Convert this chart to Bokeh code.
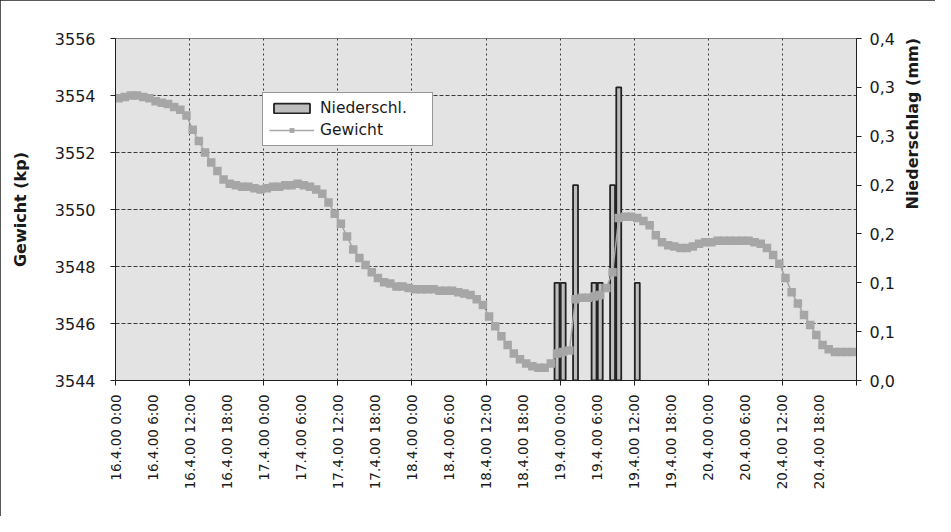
import math
from bokeh.plotting import figure
from bokeh.models import Range1d, LinearAxis, FixedTicker, Legend, LegendItem, ColumnDataSource
from bokeh.embed import file_html
from bokeh.resources import INLINE

# ---- data ----
# hourly weight readings (kp), hour index 0 = 16.4.00 0:00
gewicht = [
    3553.9, 3553.95, 3554.0, 3554.0, 3553.95, 3553.9, 3553.8, 3553.75, 3553.7, 3553.6,
    3553.5, 3553.3, 3552.8, 3552.4, 3552.0, 3551.65, 3551.35, 3551.05, 3550.9, 3550.85,
    3550.8, 3550.8, 3550.75, 3550.7, 3550.75, 3550.8, 3550.8, 3550.85, 3550.85, 3550.9,
    3550.85, 3550.8, 3550.7, 3550.55, 3550.25, 3549.85, 3549.5, 3549.05, 3548.6, 3548.3,
    3548.05, 3547.8, 3547.6, 3547.45, 3547.4, 3547.3, 3547.3, 3547.25, 3547.2, 3547.2,
    3547.2, 3547.2, 3547.15, 3547.15, 3547.15, 3547.1, 3547.05, 3547.0, 3546.85, 3546.65,
    3546.25, 3545.9, 3545.55, 3545.25, 3544.95, 3544.75, 3544.6, 3544.5, 3544.45, 3544.45,
    3544.6, 3544.95, 3545.0, 3545.05, 3546.85, 3546.9, 3546.9, 3546.95, 3547.0, 3547.25,
    3547.8, 3549.7, 3549.75, 3549.75, 3549.7, 3549.6, 3549.45, 3549.1, 3548.85, 3548.75,
    3548.7, 3548.65, 3548.65, 3548.7, 3548.8, 3548.85, 3548.85, 3548.9, 3548.9, 3548.9,
    3548.9, 3548.9, 3548.9, 3548.85, 3548.8, 3548.65, 3548.4, 3548.1, 3547.6, 3547.1,
    3546.7, 3546.3, 3545.95, 3545.6, 3545.25, 3545.1, 3545.0, 3545.0, 3545.0, 3545.0,
]
# precipitation (mm) at hour indices
regen_stunde = [71, 72, 74, 77, 78, 80, 81, 84]
regen_mm = [0.1, 0.1, 0.2, 0.1, 0.1, 0.2, 0.3, 0.1]

# x tick labels every 6 hours
x_tick_hours = [0, 6, 12, 18, 24, 30, 36, 42, 48, 54, 60, 66, 72, 78, 84, 90, 96, 102, 108, 114]
x_tick_labels = [
    "16.4.00 0:00", "16.4.00 6:00", "16.4.00 12:00", "16.4.00 18:00",
    "17.4.00 0:00", "17.4.00 6:00", "17.4.00 12:00", "17.4.00 18:00",
    "18.4.00 0:00", "18.4.00 6:00", "18.4.00 12:00", "18.4.00 18:00",
    "19.4.00 0:00", "19.4.00 6:00", "19.4.00 12:00", "19.4.00 18:00",
    "20.4.00 0:00", "20.4.00 6:00", "20.4.00 12:00", "20.4.00 18:00",
]
left_ticks = [3544, 3546, 3548, 3550, 3552, 3554, 3556]
right_ticks = [0.0, 0.05, 0.1, 0.15, 0.2, 0.25, 0.3, 0.35]
right_tick_labels = ["0,0", "0,1", "0,1", "0,2", "0,2", "0,3", "0,3", "0,4"]

FONT = "DejaVu Sans"
TXT = "#1a1a1a"

w_src = ColumnDataSource(dict(x=[i + 0.5 for i in range(len(gewicht))], y=gewicht))
r_src = ColumnDataSource(dict(x=[h + 0.5 for h in regen_stunde], y=regen_mm))

p = figure(width=935, height=516, output_backend="svg", toolbar_location=None,
           x_range=Range1d(0, 120), y_range=Range1d(3544, 3556),
           min_border_left=115, min_border_right=79, min_border_top=38, min_border_bottom=136,
           background_fill_color="#e3e3e3", border_fill_color="white")
p.outline_line_color = "#808080"
p.extra_y_ranges = {"prec": Range1d(0, 0.35)}

bars = p.vbar(x="x", top="y", width=0.8, bottom=0, source=r_src, y_range_name="prec",
              fill_color="#bdbdbd", line_color="#222222", line_width=1.8)
line = p.line("x", "y", source=w_src, line_color="#a6a6a6", line_width=1.5)
pts = p.scatter("x", "y", source=w_src, marker="square", size=8.5,
                fill_color="#a6a6a6", line_color=None)

# axes
xa = p.xaxis[0]
xa.ticker = FixedTicker(ticks=x_tick_hours, minor_ticks=list(range(0, 121, 12)))
xa.major_label_overrides = {h: lab for h, lab in zip(x_tick_hours, x_tick_labels)}
xa.major_label_orientation = math.pi / 2
xa.major_tick_out = 0
xa.major_tick_in = 0
xa.minor_tick_out = 5
xa.minor_tick_in = 0
xa.major_label_standoff = 9

ya = p.yaxis[0]
ya.ticker = FixedTicker(ticks=left_ticks)
ya.axis_label = "Gewicht (kp)"
ya.major_tick_out = 5
ya.major_tick_in = 0
ya.minor_tick_out = 0
ya.major_label_standoff = 15

ra = LinearAxis(y_range_name="prec", axis_label="Niederschlag (mm)")
ra.ticker = FixedTicker(ticks=right_ticks)
ra.major_label_overrides = {v: lab for v, lab in zip(right_ticks, right_tick_labels)}
ra.major_tick_out = 5
ra.major_tick_in = 0
ra.minor_tick_out = 0
ra.major_label_standoff = 8
try:
    ra.axis_label_orientation = math.pi / 2
except Exception:
    pass
p.add_layout(ra, "right")

for ax in (xa, ya, ra):
    ax.axis_line_color = "#202020"
    ax.major_tick_line_color = "#202020"
    ax.minor_tick_line_color = "#202020"
    ax.major_label_text_font = FONT
    ax.major_label_text_font_size = "16px"
    ax.major_label_text_color = TXT
    ax.axis_label_text_font = FONT
    ax.axis_label_text_font_size = "16px"
    ax.axis_label_text_font_style = "bold"
    ax.axis_label_text_color = TXT
xa.major_label_text_font_size = "13.5px"
ya.axis_label_standoff = 22
ra.axis_label_standoff = 15

# grids
p.xgrid.ticker = FixedTicker(ticks=list(range(12, 120, 12)))
p.ygrid.ticker = FixedTicker(ticks=[3546, 3548, 3550, 3552, 3554])
p.xgrid.grid_line_color = "#3a3a3a"
p.xgrid.grid_line_dash = "2 3"
p.ygrid.grid_line_color = "#3a3a3a"
p.ygrid.grid_line_dash = "4 2"

legend = Legend(items=[LegendItem(label="Niederschl.", renderers=[bars]),
                       LegendItem(label="Gewicht", renderers=[line, pts])],
                location=(147, 234))
legend.background_fill_color = "white"
legend.background_fill_alpha = 1
legend.border_line_color = "#303030"
legend.border_line_width = 1
legend.label_text_font = FONT
legend.label_text_font_size = "15.5px"
legend.label_text_color = TXT
legend.glyph_width = 45
legend.glyph_height = 12
legend.label_width = 106
legend.label_standoff = 6
legend.spacing = 4
legend.padding = 6
legend.margin = 0
p.add_layout(legend, "center")

p.styles = {"outline": "1px solid #222", "outline-offset": "-1px"}

open("out.html", "w").write(file_html(p, INLINE))
